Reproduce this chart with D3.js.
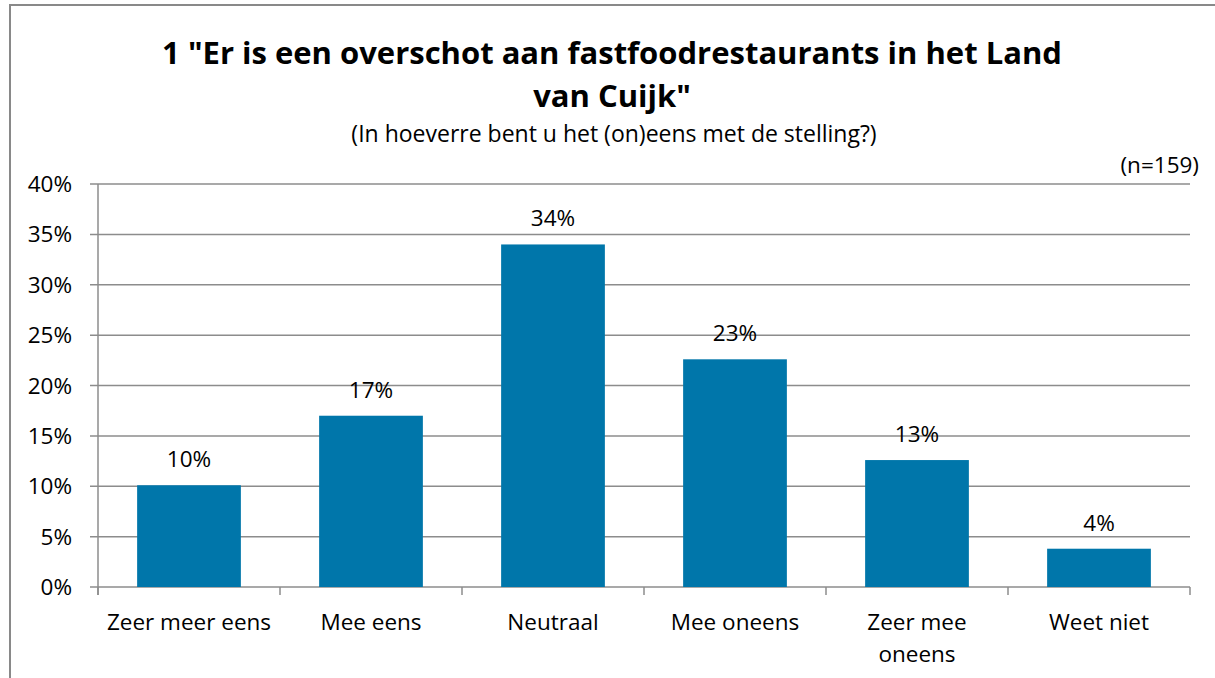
<!DOCTYPE html>
<html>
<head>
<meta charset="utf-8">
<script src="https://cdn.jsdelivr.net/npm/d3@7"></script>
<style>
  body { margin: 0; background: #fff; }
  text { font-family: "Open Sans", Lato, sans-serif; fill: #000; }
</style>
</head>
<body>
<div id="chart-area"></div>
<script>
const W = 1215, H = 678
const MARGIN = { LEFT: 98, RIGHT: 25, TOP: 184, BOTTOM: 91 }
const FS = "22.5px"

// data (n=159)
const categories = ["Zeer meer eens", "Mee eens", "Neutraal", "Mee oneens", "Zeer mee oneens", "Weet niet"]
const values = [10.1, 17.0, 34.0, 22.6, 12.6, 3.8]
const labels = ["10%", "17%", "34%", "23%", "13%", "4%"]
const yTicks = [0, 5, 10, 15, 20, 25, 30, 35, 40]

const svg = d3.select("#chart-area").append("svg")
  .attr("width", W)
  .attr("height", H)

// outer chart frame (runs off the page right and bottom)
svg.append("rect")
  .attr("x", 10).attr("y", 5)
  .attr("width", W + 20).attr("height", H + 20)
  .attr("fill", "none")
  .attr("stroke", "#898989")
  .attr("stroke-width", 2)

// titles
svg.append("text")
  .attr("x", 612).attr("y", 64)
  .attr("text-anchor", "middle")
  .style("font-size", "31px").style("font-weight", "bold")
  .text('1 "Er is een overschot aan fastfoodrestaurants in het Land')
svg.append("text")
  .attr("x", 612).attr("y", 107)
  .attr("text-anchor", "middle")
  .style("font-size", "31px").style("font-weight", "bold")
  .text('van Cuijk"')
svg.append("text")
  .attr("x", 614).attr("y", 142)
  .attr("text-anchor", "middle")
  .style("font-size", "23px")
  .text("(In hoeverre bent u het (on)eens met de stelling?)")
svg.append("text")
  .attr("x", 1199).attr("y", 173)
  .attr("text-anchor", "end")
  .style("font-size", FS)
  .text("(n=159)")

const g = svg.append("g")
  .attr("transform", `translate(${MARGIN.LEFT},${MARGIN.TOP})`)

const width = 1190 - MARGIN.LEFT
const height = H - MARGIN.TOP - MARGIN.BOTTOM

const x = d3.scaleBand()
  .domain(categories)
  .range([0, width])
  .paddingInner(0.43)
  .paddingOuter(0.215)

const y = d3.scaleLinear()
  .domain([0, 40])
  .range([height, 0])

// gridlines
g.selectAll(".grid")
  .data(yTicks)
  .join("line")
  .attr("x1", -8).attr("x2", width)
  .attr("y1", d => y(d)).attr("y2", d => y(d))
  .attr("stroke", "#8c8c8c")
  .attr("stroke-width", 1.5)

// y axis line
g.append("line")
  .attr("x1", 0).attr("x2", 0)
  .attr("y1", 0).attr("y2", height + 8)
  .attr("stroke", "#8c8c8c").attr("stroke-width", 1.5)

// y labels
g.selectAll(".ylab")
  .data(yTicks)
  .join("text")
  .attr("x", -26)
  .attr("y", d => y(d) + 8)
  .attr("text-anchor", "end")
  .style("font-size", FS)
  .text(d => d + "%")

// bars
g.selectAll(".bar")
  .data(values)
  .join("rect")
  .attr("x", (d, i) => x(categories[i]))
  .attr("y", d => y(d))
  .attr("width", x.bandwidth())
  .attr("height", d => height - y(d))
  .attr("fill", "#0076aa")

// x tick marks at category boundaries
const step = width / categories.length
g.selectAll(".xtick")
  .data(d3.range(categories.length + 1))
  .join("line")
  .attr("x1", i => i * step).attr("x2", i => i * step)
  .attr("y1", height).attr("y2", height + 8)
  .attr("stroke", "#8c8c8c").attr("stroke-width", 1.5)

// value labels
g.selectAll(".vlab")
  .data(values)
  .join("text")
  .attr("x", (d, i) => x(categories[i]) + x.bandwidth() / 2)
  .attr("y", d => y(d) - 18)
  .attr("text-anchor", "middle")
  .style("font-size", FS)
  .text((d, i) => labels[i])

// category labels (wrap "Zeer mee oneens")
const catLines = [["Zeer meer eens"], ["Mee eens"], ["Neutraal"], ["Mee oneens"], ["Zeer mee", "oneens"], ["Weet niet"]]
g.selectAll(".xlab")
  .data(categories)
  .join("text")
  .attr("x", d => x(d) + x.bandwidth() / 2)
  .attr("y", height + 43)
  .attr("text-anchor", "middle")
  .style("font-size", FS)
  .each(function (d, i) {
    d3.select(this).selectAll("tspan")
      .data(catLines[i])
      .join("tspan")
      .attr("x", x(d) + x.bandwidth() / 2)
      .attr("dy", (t, j) => j === 0 ? 0 : 32)
      .text(t => t)
  })
</script>
</body>
</html>
